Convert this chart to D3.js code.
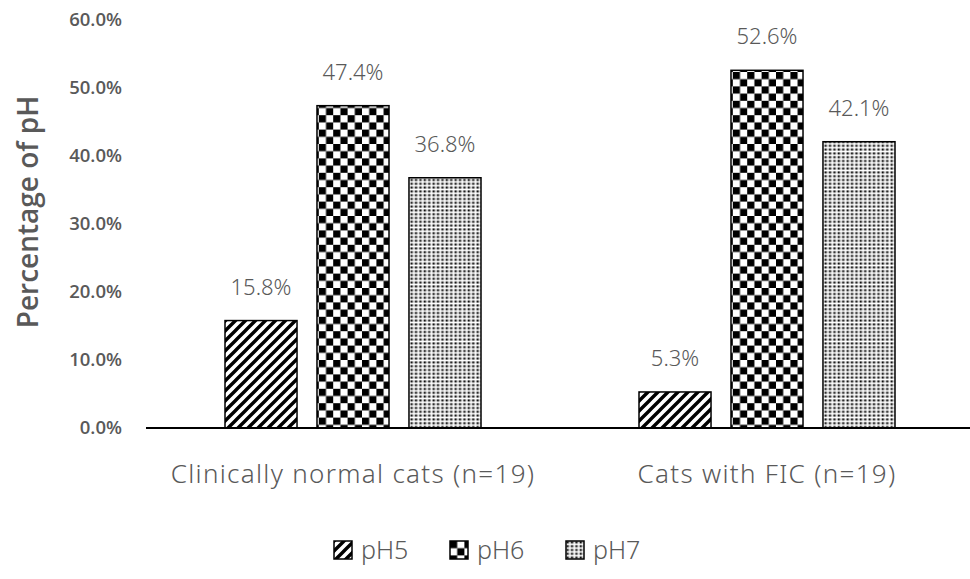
<!DOCTYPE html>
<html>
<head>
<meta charset="utf-8">
<script src="https://cdn.jsdelivr.net/npm/d3@7"></script>
<style>
  body { margin: 0; background: #fff; }
  text { fill: #595959; }
</style>
</head>
<body>
<div id="chart"></div>
<script>
// data
const categories = ["Clinically normal cats (n=19)", "Cats with FIC (n=19)"];
const seriesNames = ["pH5", "pH6", "pH7"];
const pH5 = [15.8, 5.3];
const pH6 = [47.4, 52.6];
const pH7 = [36.8, 42.1];
const yTicks = [0, 10, 20, 30, 40, 50, 60];

const seriesValues = [pH5, pH6, pH7];
const rows = categories.map((c, i) => ({
  cat: c,
  vals: seriesNames.map((s, j) => ({ key: s, value: seriesValues[j][i] }))
}));

const width = 970;
const height = 579;
const margin = { top: 20, right: 0, bottom: 151, left: 146 };

const svg = d3.select("#chart")
  .append("svg")
  .attr("width", width)
  .attr("height", height);

// patterns
const defs = svg.append("defs");

const p5 = defs.append("pattern")
  .attr("id", "pat-pH5")
  .attr("patternUnits", "userSpaceOnUse")
  .attr("width", 10).attr("height", 10);
p5.append("rect").attr("width", 10).attr("height", 10).attr("fill", "#fff");
p5.append("path")
  .attr("d", "M-2,12 L12,-2 M-7,7 L7,-7 M3,17 L17,3")
  .attr("stroke", "#000").attr("stroke-width", 3.4);

const p6 = defs.append("pattern")
  .attr("id", "pat-pH6")
  .attr("patternUnits", "userSpaceOnUse")
  .attr("width", 14.4).attr("height", 14.4);
p6.append("rect").attr("width", 14.4).attr("height", 14.4).attr("fill", "#fff");
p6.append("rect").attr("width", 7.2).attr("height", 7.2).attr("fill", "#000");
p6.append("rect").attr("x", 7.2).attr("y", 7.2).attr("width", 7.2).attr("height", 7.2).attr("fill", "#000");

const p7 = defs.append("pattern")
  .attr("id", "pat-pH7")
  .attr("patternUnits", "userSpaceOnUse")
  .attr("width", 4.4).attr("height", 3.8);
p7.append("rect").attr("width", 4.4).attr("height", 3.8).attr("fill", "#fff");
p7.append("rect").attr("x", 0.5).attr("y", 0.4).attr("width", 2).attr("height", 2).attr("fill", "#000");
p7.append("rect").attr("x", 2.5).attr("y", 0.4).attr("width", 1.2).attr("height", 2).attr("fill", "#999");

// scales
const y = d3.scaleLinear()
  .domain([0, 60])
  .range([height - margin.bottom, margin.top]);

const x0 = d3.scaleBand()
  .domain(categories)
  .range([margin.left, width + 4])
  .padding(0);

const groupW = 256;
const x1 = d3.scaleBand()
  .domain(seriesNames)
  .range([x0.bandwidth() / 2 - groupW / 2, x0.bandwidth() / 2 + groupW / 2])
  .paddingInner(0.217);

// y axis labels (no line, no ticks)
const yAxis = d3.axisLeft(y).tickValues(yTicks).tickSize(0).tickPadding(0)
  .tickFormat(d => d.toFixed(1) + "%");
const yG = svg.append("g")
  .attr("transform", `translate(122,0)`)
  .call(yAxis);
yG.select(".domain").remove();
yG.selectAll("text")
  .attr("font-family", "Open Sans, sans-serif")
  .attr("font-weight", 600)
  .attr("font-size", 18.5)
  .style("fill", "#595959");

// y title
svg.append("text")
  .attr("transform", `translate(38,212) rotate(-90)`)
  .attr("text-anchor", "middle")
  .attr("font-family", "Open Sans, sans-serif")
  .attr("font-weight", 600)
  .attr("font-size", 28)
  .text("Percentage of pH");

// bars
const groups = svg.selectAll(".group")
  .data(rows)
  .enter()
  .append("g")
  .attr("class", "group")
  .attr("transform", d => `translate(${x0(d.cat)},0)`);

groups.selectAll("rect")
  .data(d => d.vals)
  .enter()
  .append("rect")
  .attr("x", d => x1(d.key))
  .attr("y", d => y(d.value))
  .attr("width", x1.bandwidth())
  .attr("height", d => y(0) - y(d.value))
  .attr("fill", d => `url(#pat-${d.key})`)
  .attr("stroke", "#000")
  .attr("stroke-width", 1.5);

groups.selectAll(".label")
  .data(d => d.vals)
  .enter()
  .append("text")
  .attr("class", "label")
  .attr("x", d => x1(d.key) + x1.bandwidth() / 2)
  .attr("y", d => y(d.value) - 26)
  .attr("text-anchor", "middle")
  .attr("font-family", "Noto Sans, sans-serif")
  .attr("font-weight", 300)
  .attr("font-size", 22)
  .text(d => d.value.toFixed(1) + "%");

// x axis
const xAxis = d3.axisBottom(x0).tickSize(0).tickPadding(46);
const xG = svg.append("g")
  .attr("transform", `translate(0,${y(0)})`)
  .call(xAxis);
xG.select(".domain")
  .attr("stroke", "#000")
  .attr("stroke-width", 2)
  .attr("d", `M${margin.left},0H${width}`);
xG.selectAll("text")
  .attr("dy", "0.35em")
  .attr("font-family", "Noto Sans, sans-serif")
  .attr("font-weight", 300)
  .attr("font-size", 26)
  .attr("letter-spacing", 1.3)
  .style("fill", "#595959");

// legend
const legendX = [334, 450, 566];
const legend = svg.selectAll(".legend")
  .data(seriesNames)
  .enter()
  .append("g")
  .attr("class", "legend")
  .attr("transform", (d, i) => `translate(${legendX[i]},541)`);
legend.append("rect")
  .attr("width", 18).attr("height", 18)
  .attr("fill", d => `url(#pat-${d})`)
  .attr("stroke", "#000").attr("stroke-width", 1.5);
legend.append("text")
  .attr("x", 27).attr("y", 18)
  .attr("font-family", "Noto Sans, sans-serif")
  .attr("font-weight", 300)
  .attr("font-size", 25)
  .text(d => d);
</script>
</body>
</html>
